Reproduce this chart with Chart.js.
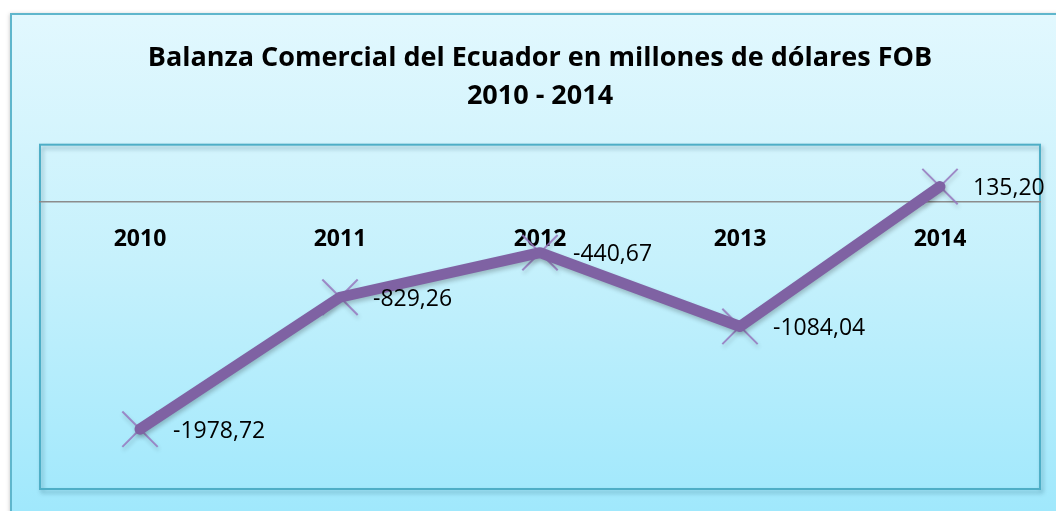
<!DOCTYPE html>
<html>
<head>
<meta charset="utf-8">
<script src="https://cdn.jsdelivr.net/npm/chart.js@4"></script>
<style>
  html, body { margin: 0; padding: 0; background: #ffffff; }
  #wrap { width: 1056px; height: 511px; position: relative; }
</style>
</head>
<body>
<div id="wrap"><canvas id="balanza" width="1056" height="511"></canvas></div>
<script>
// datos
const anios = ['2010', '2011', '2012', '2013', '2014'];
const balanza = [-1978.72, -829.26, -440.67, -1084.04, 135.20];
const etiquetas = ['-1978,72', '-829,26', '-440,67', '-1084,04', '135,20'];
const titulo = ['Balanza Comercial del Ecuador en millones de dólares FOB', '2010 - 2014'];

const morado = '#7f62a3';

// fondo degradado, marco exterior y area del grafico
const fondo = {
  id: 'fondo',
  beforeDraw(chart) {
    const { ctx, chartArea: a } = chart;
    ctx.save();
    const g = ctx.createLinearGradient(0, 14, 0, 511);
    g.addColorStop(0, '#e2f8fe');
    g.addColorStop(0.5, '#c6f1fc');
    g.addColorStop(1, '#a0e8fc');
    ctx.shadowColor = 'rgba(0,0,0,0.25)';
    ctx.shadowBlur = 4;
    ctx.shadowOffsetX = -1;
    ctx.fillStyle = g;
    ctx.fillRect(11, 14, 1060, 520);
    ctx.shadowColor = 'transparent';
    ctx.strokeStyle = '#5fb6cc';
    ctx.lineWidth = 2;
    ctx.strokeRect(11, 14, 1060, 520);

    // area de trazado
    ctx.shadowColor = 'rgba(0,60,80,0.35)';
    ctx.shadowBlur = 4;
    ctx.shadowOffsetX = 2;
    ctx.shadowOffsetY = 3;
    ctx.strokeStyle = '#4eaec6';
    ctx.lineWidth = 2;
    ctx.strokeRect(a.left, a.top, a.right - a.left, a.bottom - a.top);
    ctx.restore();
  }
};

// sombra de la serie
const sombra = {
  id: 'sombra',
  beforeDatasetDraw(chart) {
    const ctx = chart.ctx;
    ctx.save();
    ctx.shadowColor = 'rgba(0,0,0,0.22)';
    ctx.shadowBlur = 4;
    ctx.shadowOffsetX = 1;
    ctx.shadowOffsetY = 3;
  },
  afterDatasetDraw(chart) {
    chart.ctx.restore();
  }
};

// etiquetas de datos a la derecha de cada punto
const rotulos = {
  id: 'rotulos',
  afterDatasetsDraw(chart) {
    const ctx = chart.ctx;
    const meta = chart.getDatasetMeta(1);
    ctx.save();
    ctx.font = '23px "Open Sans"';
    ctx.fillStyle = '#000000';
    ctx.textAlign = 'left';
    ctx.textBaseline = 'middle';
    meta.data.forEach((p, i) => {
      ctx.fillText(etiquetas[i], p.x + 33, p.y + 2);
    });
    ctx.restore();
  }
};

new Chart(document.getElementById('balanza'), {
  type: 'line',
  data: {
    labels: anios,
    datasets: [
      {
        // marcadores
        data: balanza,
        showLine: false,
        pointStyle: 'crossRot',
        pointRadius: 25,
        pointBorderWidth: 2,
        pointBorderColor: 'rgba(150,120,190,0.85)',
        pointBackgroundColor: 'transparent',
        clip: false,
        order: 2
      },
      {
        data: balanza,
        borderColor: morado,
        borderWidth: 11,
        borderCapStyle: 'round',
        borderJoinStyle: 'round',
        pointRadius: 0,
        tension: 0,
        clip: false,
        order: 1
      }
    ]
  },
  options: {
    responsive: false,
    animation: false,
    layout: { autoPadding: false, padding: { left: 40, right: 16, top: 0, bottom: 22 } },
    plugins: {
      legend: { display: false },
      tooltip: { enabled: false },
      title: {
        display: true,
        text: titulo,
        color: '#000000',
        font: { family: '"Open Sans"', size: 27, weight: 'bold', lineHeight: 1.42 },
        padding: { top: 39, bottom: 29 }
      }
    },
    scales: {
      x: {
        position: { y: 0 },
        offset: true,
        grid: { display: false, drawTicks: false },
        border: { display: true, color: '#8c8c8c', width: 1.5 },
        ticks: {
          color: '#000000',
          padding: 24,
          font: { family: '"Open Sans"', size: 23, weight: 'bold' }
        }
      },
      y: {
        display: false,
        min: -2500,
        max: 500
      }
    }
  },
  plugins: [fondo, sombra, rotulos]
});
</script>
</body>
</html>
